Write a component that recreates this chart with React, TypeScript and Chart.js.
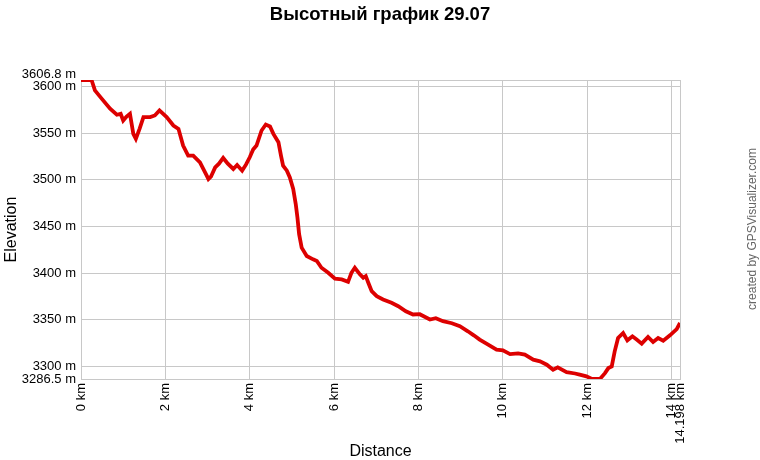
import React, { useEffect, useRef } from 'react';
import { Chart, registerables } from 'chart.js';
Chart.register(...registerables);

const distanceKm = [
  0, 0.25, 0.33, 0.49, 0.69, 0.85, 0.94, 1.0, 1.08, 1.16, 1.24, 1.3, 1.39, 1.48, 1.64, 1.75, 1.86, 2.03, 2.19, 2.31,
  2.42, 2.54, 2.66, 2.82, 2.98, 3.02, 3.08, 3.18, 3.27, 3.37, 3.48, 3.61, 3.7, 3.82, 3.91, 4.0, 4.08, 4.16, 4.28, 4.38,
  4.48, 4.56, 4.68, 4.74, 4.79, 4.88, 4.95, 5.03, 5.09, 5.13, 5.17, 5.23, 5.35, 5.5, 5.59, 5.7, 5.86, 6.02, 6.18, 6.33,
  6.41, 6.49, 6.61, 6.69, 6.75, 6.81, 6.89, 7.01, 7.16, 7.36, 7.52, 7.7, 7.87, 8.03, 8.27, 8.41, 8.58, 8.79, 8.98, 9.17,
  9.31, 9.45, 9.64, 9.85, 10.0, 10.17, 10.36, 10.52, 10.72, 10.88, 11.04, 11.19, 11.3, 11.51, 11.71, 11.82, 11.98, 12.11, 12.18, 12.3,
  12.42, 12.5, 12.58, 12.65, 12.73, 12.85, 12.95, 13.07, 13.17, 13.29, 13.44, 13.56, 13.68, 13.8, 13.96, 14.12, 14.198,
];
const elevationM = [
  3606.8, 3606.8, 3595.7, 3586.8, 3576.0, 3569.6, 3570.6, 3563.4, 3567.7, 3570.6, 3549.1, 3543.8, 3554.8, 3567.0, 3567.0, 3568.8, 3574.2, 3567.0, 3558.1, 3554.5,
  3536.6, 3525.8, 3525.8, 3518.6, 3504.3, 3500.7, 3503.2, 3513.2, 3517.2, 3523.3, 3517.2, 3511.5, 3515.8, 3509.7, 3516.1, 3524.0, 3532.3, 3536.6, 3552.7, 3559.1,
  3557.0, 3549.1, 3540.1, 3525.8, 3515.0, 3509.7, 3502.5, 3490.0, 3473.9, 3459.5, 3441.6, 3427.2, 3418.3, 3414.7, 3412.9, 3405.7, 3400.3, 3393.9, 3393.2, 3390.6,
  3400.3, 3405.7, 3398.6, 3395.0, 3396.8, 3389.6, 3380.6, 3375.3, 3371.7, 3368.1, 3364.5, 3359.1, 3355.6, 3355.9, 3350.2, 3351.6, 3348.4, 3346.2, 3343.0, 3337.6,
  3333.3, 3328.7, 3323.6, 3317.9, 3317.2, 3313.2, 3314.0, 3312.6, 3307.2, 3305.4, 3301.8, 3296.4, 3298.9, 3293.8, 3292.4, 3291.1, 3289.3, 3286.6, 3286.5, 3286.5,
  3292.8, 3298.2, 3300.0, 3316.1, 3330.4, 3335.8, 3327.9, 3332.2, 3328.7, 3324.4, 3331.5, 3326.1, 3330.4, 3327.6, 3333.3, 3340.0, 3346.5,
];
const xTickValues = [0, 2, 4, 6, 8, 10, 12, 14, 14.198];
const yTickValues = [3286.5, 3300, 3350, 3400, 3450, 3500, 3550, 3600, 3606.8];
const chartTitle = 'Высотный график 29.07';
const creditText = 'created by GPSVisualizer.com';
const xAxisTitle = 'Distance';
const yAxisTitle = 'Elevation';

const FONT = '"Liberation Sans", Arial, sans-serif';
const GRID = '#c8c8c8';

const textPlugin = {
  id: 'extraText',
  afterDraw(chart: any) {
    const ctx = chart.ctx;
    ctx.save();
    ctx.fillStyle = '#000';
    ctx.font = `bold 18.5px ${FONT}`;
    ctx.textAlign = 'center';
    ctx.textBaseline = 'middle';
    ctx.fillText(chartTitle, chart.width / 2, 15);
    ctx.translate(753, 229);
    ctx.rotate(-Math.PI / 2);
    ctx.fillStyle = '#666';
    ctx.font = `12px ${FONT}`;
    ctx.fillText(creditText, 0, 0);
    ctx.restore();
  },
};

export default function App() {
  const ref = useRef<HTMLCanvasElement | null>(null);
  useEffect(() => {
    if (!ref.current) return;
    const points = distanceKm.map((d, i) => ({ x: d, y: elevationM[i] }));
    const chart = new Chart(ref.current, {
      type: 'line',
      data: {
        datasets: [
          {
            data: points,
            borderColor: '#dd0000',
            borderWidth: 3.8,
            pointRadius: 0,
            tension: 0,
            fill: false,
          },
        ],
      },
      options: {
        animation: false,
        responsive: false,
        layout: { padding: { top: 80, right: 80, left: 0, bottom: 0 } },
        plugins: { legend: { display: false }, tooltip: { enabled: false }, title: { display: false } },
        scales: {
          x: {
            type: 'linear',
            min: 0,
            max: 14.198,
            afterBuildTicks: (s: any) => {
              s.ticks = xTickValues.map((v) => ({ value: v }));
            },
            afterFit: (s: any) => {
              s.height = 81;
            },
            ticks: {
              autoSkip: false,
              minRotation: 90,
              maxRotation: 90,
              padding: 4,
              color: '#000',
              font: { family: FONT, size: 13 },
              callback: (v: any) => `${v} km`,
            },
            grid: { color: GRID, drawTicks: false },
            border: { color: GRID },
            title: {
              display: true,
              text: xAxisTitle,
              color: '#000',
              font: { family: FONT, size: 16, lineHeight: 1 },
              padding: 0,
            },
          },
          y: {
            type: 'linear',
            min: 3286.5,
            max: 3606.8,
            afterBuildTicks: (s: any) => {
              s.ticks = yTickValues.map((v) => ({ value: v }));
            },
            afterFit: (s: any) => {
              s.width = 81;
            },
            ticks: {
              autoSkip: false,
              padding: 5,
              color: '#000',
              font: { family: FONT, size: 13, lineHeight: 0.85 },
              callback: (v: any) => (v === 3606.8 ? [`${v} m`, ''] : `${v} m`),
            },
            grid: { color: GRID, drawTicks: false },
            border: { color: GRID },
            title: {
              display: true,
              text: yAxisTitle,
              color: '#000',
              font: { family: FONT, size: 16, lineHeight: 1 },
              padding: { top: 4, bottom: 0 },
            },
          },
        },
      },
      plugins: [textPlugin],
    } as any);
    return () => chart.destroy();
  }, []);
  return (
    <div style={{ position: 'fixed', left: 0, top: 0, width: 760, height: 460, background: '#fff' }}>
      <canvas ref={ref} width={760} height={460} />
    </div>
  );
}
